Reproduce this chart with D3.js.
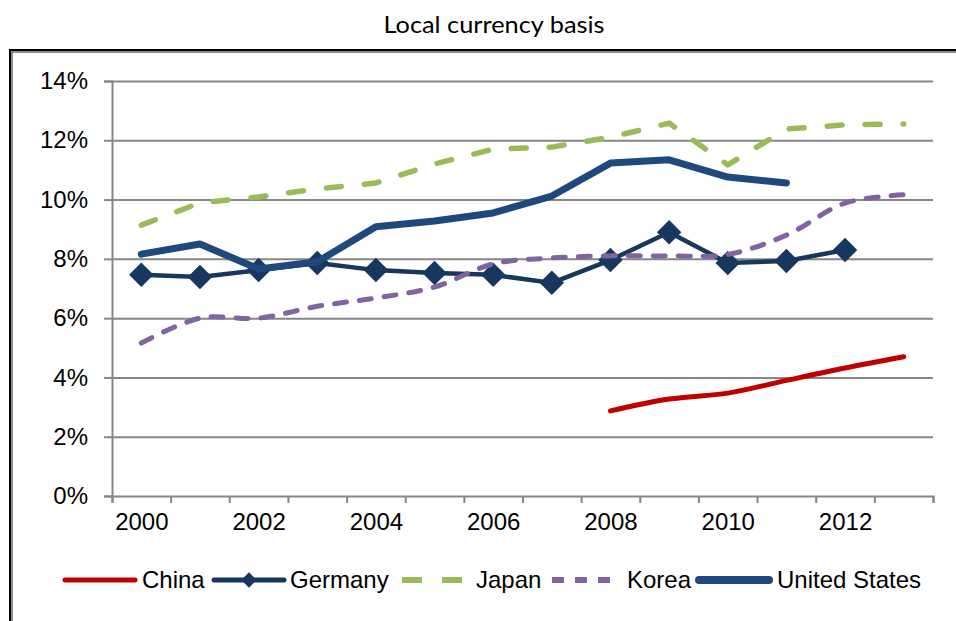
<!DOCTYPE html>
<html>
<head>
<meta charset="utf-8">
<script src="https://cdn.jsdelivr.net/npm/d3@7"></script>
<style>
  body { margin: 0; background: #fff; }
  svg { display: block; }
</style>
</head>
<body>
<div id="chart"></div>
<script>
// Data (percent)
const years = [2000, 2001, 2002, 2003, 2004, 2005, 2006, 2007, 2008, 2009, 2010, 2011, 2012, 2013];
const china = [null, null, null, null, null, null, null, null, 2.87, 3.27, 3.47, 3.9, 4.32, 4.7];
const germany = [7.46, 7.39, 7.62, 7.86, 7.62, 7.52, 7.46, 7.19, 7.96, 8.9, 7.86, 7.93, 8.3, null];
const japan = [9.14, 9.89, 10.09, 10.36, 10.56, 11.2, 11.7, 11.77, 12.1, 12.58, 11.17, 12.38, 12.52, 12.55];
const korea = [5.16, 6.0, 6.0, 6.4, 6.68, 7.05, 7.83, 8.03, 8.1, 8.1, 8.15, 8.8, 9.88, 10.16];
const unitedStates = [8.16, 8.5, 7.66, 7.9, 9.08, 9.28, 9.55, 10.12, 11.23, 11.34, 10.76, 10.56, null, null];
const yTicks = [0, 2, 4, 6, 8, 10, 12, 14];
const xLabels = [2000, 2002, 2004, 2006, 2008, 2010, 2012];
const title = "Local currency basis";

const series = [
  {name: "China", values: china, color: "#C00000", width: 5, dash: null, curve: d3.curveCatmullRom},
  {name: "Germany", values: germany, color: "#17375E", width: 4.5, dash: null, curve: d3.curveLinear, marker: true},
  {name: "Japan", values: japan, color: "#9BBB59", width: 5.5, dash: "15,23", curve: d3.curveLinear},
  {name: "Korea", values: korea, color: "#8064A2", width: 5, dash: "12,13", curve: d3.curveCatmullRom},
  {name: "United States", values: unitedStates, color: "#1F497D", width: 7, dash: null, curve: d3.curveLinear}
];

const W = 956, H = 621;
const plot = {left: 112, right: 933, top: 81, bottom: 496};

const svg = d3.select("#chart").append("svg")
  .attr("width", W)
  .attr("height", H);

// outer frame (runs off the right and bottom edges)
svg.append("rect")
  .attr("x", 10).attr("y", 50).attr("width", 1000).attr("height", 1000)
  .attr("fill", "none").attr("stroke", "#000").attr("stroke-width", 2);
svg.append("rect")
  .attr("x", 12).attr("y", 52).attr("width", 1000).attr("height", 1000)
  .attr("fill", "none").attr("stroke", "#8c8c8c").attr("stroke-width", 2);

// title
svg.append("text")
  .attr("x", 494).attr("y", 33)
  .attr("text-anchor", "middle")
  .attr("font-family", "Lato, 'Open Sans', sans-serif")
  .attr("font-size", 24)
  .attr("textLength", 221)
  .attr("lengthAdjust", "spacingAndGlyphs")
  .attr("fill", "#000")
  .text(title);

// scales
const x = d3.scaleLinear()
  .domain([years[0] - 0.5, years[years.length - 1] + 0.5])
  .range([plot.left, plot.right]);
const y = d3.scaleLinear().domain([0, 14]).range([plot.bottom, plot.top]);

const gridColor = "#868686";
const font = "Arial, 'Liberation Sans', sans-serif";

// gridlines
svg.append("g")
  .attr("transform", `translate(${plot.left},0)`)
  .call(d3.axisLeft(y).tickValues(yTicks.slice(1)).tickSize(-(plot.right - plot.left)).tickFormat(""))
  .call(g => g.select(".domain").remove())
  .call(g => g.selectAll("line").attr("stroke", gridColor).attr("stroke-width", 2));

// y axis
svg.append("g")
  .attr("transform", `translate(${plot.left},0)`)
  .call(d3.axisLeft(y).tickValues(yTicks).tickSize(8).tickPadding(16).tickFormat(d => d + "%"))
  .call(g => g.select(".domain").attr("stroke", gridColor).attr("stroke-width", 2))
  .call(g => g.selectAll("line").attr("stroke", gridColor).attr("stroke-width", 2))
  .call(g => g.selectAll("text").attr("font-family", font).attr("font-size", 24).attr("fill", "#000"));

// x axis: ticks on category boundaries, labels on every other year
const boundaries = years.map(d => d - 0.5).concat([years[years.length - 1] + 0.5]);
svg.append("g")
  .attr("transform", `translate(0,${plot.bottom})`)
  .call(d3.axisBottom(x).tickValues(boundaries).tickSize(7).tickFormat(""))
  .call(g => g.select(".domain").attr("stroke", gridColor).attr("stroke-width", 2))
  .call(g => g.selectAll("line").attr("stroke", gridColor).attr("stroke-width", 2));
svg.append("g")
  .attr("transform", `translate(0,${plot.bottom})`)
  .call(d3.axisBottom(x).tickValues(xLabels).tickSize(0).tickPadding(17).tickFormat(d3.format("d")))
  .call(g => g.select(".domain").remove())
  .call(g => g.selectAll("text").attr("font-family", font).attr("font-size", 24).attr("fill", "#000"));

// lines
series.forEach(s => {
  const pts = years.map((yr, i) => ({year: yr, value: s.values[i]})).filter(d => d.value != null);
  const line = d3.line()
    .x(d => x(d.year))
    .y(d => y(d.value))
    .curve(s.curve);
  svg.append("path")
    .datum(pts)
    .attr("fill", "none")
    .attr("stroke", s.color)
    .attr("stroke-width", s.width)
    .attr("stroke-linecap", "round")
    .attr("stroke-linejoin", "round")
    .attr("stroke-dasharray", s.dash)
    .attr("d", line);
  if (s.marker) {
    svg.append("g").selectAll("path")
      .data(pts)
      .join("path")
      .attr("transform", d => `translate(${x(d.year)},${y(d.value)}) rotate(45)`)
      .attr("d", d3.symbol(d3.symbolSquare, 300))
      .attr("fill", s.color);
  }
});

// legend
const legendX = [63, 212, 400, 550, 697];
const legendLen = [72, 72, 62, 60, 72];
const legendText = [79, 78, 76, 77, 80];
const legendDash = ["", "", "20,20", "12,11", ""];
const legendWidth = [5, 5, 6, 6, 8];
const legendY = 580;
series.forEach((s, i) => {
  const g = svg.append("g").attr("transform", `translate(${legendX[i]},${legendY})`);
  g.append("line")
    .attr("x1", 2).attr("x2", legendLen[i])
    .attr("stroke", s.color)
    .attr("stroke-width", legendWidth[i])
    .attr("stroke-linecap", legendDash[i] ? "butt" : "round")
    .attr("stroke-dasharray", legendDash[i] || null);
  if (s.marker) {
    g.append("path")
      .attr("transform", "translate(37,0) rotate(45)")
      .attr("d", d3.symbol(d3.symbolSquare, 120))
      .attr("fill", s.color);
  }
  g.append("text")
    .attr("x", legendText[i]).attr("y", 0)
    .attr("dy", "0.35em")
    .attr("font-family", font)
    .attr("font-size", 24)
    .attr("fill", "#000")
    .text(s.name);
});
</script>
</body>
</html>
